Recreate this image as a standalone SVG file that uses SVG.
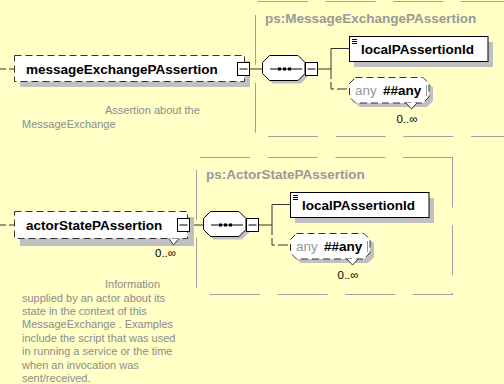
<svg xmlns="http://www.w3.org/2000/svg" width="504" height="384" viewBox="0 0 504 384">
<style>
.bg{fill:#FFFFC6}
.frame{fill:none;stroke:#a0a0a0;stroke-width:1;stroke-dasharray:50 17.7}
.ftitle{font-family:"Liberation Sans",Arial,sans-serif;font-size:13.5px;font-weight:bold;fill:#999}
.shadow{fill:#c0c0c0}
.box{fill:#fff;stroke:#000;stroke-width:1}
.obox{fill:#fff;stroke:#333;stroke-width:1;stroke-dasharray:7 4}
.name{font-family:"Liberation Sans",Arial,sans-serif;font-size:13.5px;font-weight:bold;fill:#000}
.desc{font-family:"Liberation Sans",Arial,sans-serif;font-size:11px;fill:#8c8c8c}
.occ{font-family:"Liberation Sans",Arial,sans-serif;font-size:11.5px;fill:#000}
.any{font-family:"Liberation Sans",Arial,sans-serif;font-size:13.5px;fill:#999}
.conn{fill:none;stroke:#333;stroke-width:1}
.dconn{fill:none;stroke:#333;stroke-width:1;stroke-dasharray:10 3}
.line{fill:none;stroke:#000;stroke-width:1}
.bar{fill:none;stroke:#999;stroke-width:1}
.notch{fill:#fff;stroke:#333;stroke-width:1}
</style>
<rect class="bg" x="0" y="0" width="504" height="384"/>

<g id="frame-MessageExchangePAssertion">
<path class="frame" d="M258,1.5 H504 M255.5,15 V137 M268,136.5 H504"/>
<text class="ftitle" x="265" y="22.7">ps:MessageExchangePAssertion</text>
</g>
<g id="frame-ActorStatePAssertion">
<path class="frame" d="M200,157.5 H453"/>
<path class="frame" d="M452.5,157.5 V294"/>
<path class="frame" d="M210,294.5 H453"/>
<path class="frame" d="M196.5,170 V294"/>
<text class="ftitle" x="206" y="178.7">ps:ActorStatePAssertion</text>
</g>

<g id="connectors">
<path class="dconn" style="stroke-dasharray:6 3" d="M0,69 H14.5"/>
<path class="conn" d="M249.5,69 H262.5"/>
<path class="conn" d="M317.5,69 H331 M331,69 V48.5 H349.5"/>
<path class="dconn" d="M331,69 V89 H349.5"/>
<path class="dconn" style="stroke-dasharray:6 3" d="M0,225 H14.5"/>
<path class="conn" d="M189.5,225 H203.5"/>
<path class="conn" d="M258.5,225 H272 M272,225 V204.5 H290.5"/>
<path class="dconn" d="M272,225 V245 H290.5"/>
</g>

<g id="messageExchangePAssertion">
<rect class="shadow" x="20" y="61" width="230" height="26"/>
<rect class="obox" x="14.5" y="55.5" width="230" height="26"/>
<text class="name" x="26" y="73.5">messageExchangePAssertion</text>
<rect class="box" x="237.5" y="62.5" width="12" height="13"/>
<path class="line" d="M239.5,69 H247.5"/>
<text class="desc" x="105" y="114">Assertion about the</text>
<text class="desc" x="22" y="127.5">MessageExchange</text>
</g>

<g id="sequence1">
<path class="shadow" d="M272.5,58.5 H301 L308,65.5 V76.5 L301,83.5 H272.5 L265.5,76.5 V65.5 Z"/>
<path class="box" d="M269.5,55.5 H298 L305,62.5 V73.5 L298,80.5 H269.5 L262.5,73.5 V62.5 Z"/>
<path class="line" d="M270,69 H302"/>
<rect x="278" y="67.5" width="3" height="3" fill="#000"/>
<rect x="283" y="67.5" width="3" height="3" fill="#000"/>
<rect x="288" y="67.5" width="3" height="3" fill="#000"/>
<rect class="box" x="305.5" y="62.5" width="12" height="13"/>
<path class="line" d="M307.5,69 H315.5"/>
</g>

<g id="localPAssertionId1">
<rect class="shadow" x="354" y="42" width="139" height="25"/>
<rect class="box" x="349.5" y="36.5" width="138.5" height="25"/>
<path class="line" d="M352,39.5 H357 M352,41.5 H357 M352,43.5 H357"/>
<text class="name" x="361" y="54">localPAssertionId</text>
</g>

<g id="any1">
<path class="shadow" d="M359.5,81.5 H427 L433,87.5 V101 L427,107 H359.5 L353.5,101 V87.5 Z"/>
<path class="obox" d="M355.5,77.5 H423 L429,83.5 V97 L423,103 H355.5 L349.5,97 V83.5 Z"/>
<path class="notch" d="M406,103 L411.5,109 L417,103"/>
<path class="bar" d="M426.5,85 V96"/>
<text x="355" y="95"><tspan class="any">any</tspan><tspan class="name" x="383">##any</tspan></text>
<text class="occ" x="396.5" y="123">0..∞</text>
</g>

<g id="actorStatePAssertion">
<rect class="shadow" x="20" y="217" width="174" height="29"/>
<rect class="obox" x="14.5" y="211.5" width="173" height="27"/>
<path class="notch" d="M169,238.5 L173.5,245 L179,238.5"/>
<text class="name" x="26" y="229.5">actorStatePAssertion</text>
<rect class="box" x="177.5" y="218.5" width="12" height="13"/>
<path class="line" d="M179.5,225 H187.5"/>
<text class="occ" x="155" y="257.3">0..∞</text>
<text class="desc" x="105" y="288">Information</text>
<text class="desc" x="22" y="301.5">supplied by an actor about its</text>
<text class="desc" x="22" y="315">state in the context of this</text>
<text class="desc" x="22" y="328.4">MessageExchange . Examples</text>
<text class="desc" x="22" y="341.9">include the script that was used</text>
<text class="desc" x="22" y="355.3">in running a service or the time</text>
<text class="desc" x="22" y="368.8">when an invocation was</text>
<text class="desc" x="22" y="382.2">sent/received.</text>
</g>

<g id="sequence2">
<path class="shadow" d="M213.5,214.5 H242 L249,221.5 V232.5 L242,239.5 H213.5 L206.5,232.5 V221.5 Z"/>
<path class="box" d="M210.5,211.5 H239 L246,218.5 V229.5 L239,236.5 H210.5 L203.5,229.5 V218.5 Z"/>
<path class="line" d="M211,225 H243"/>
<rect x="219" y="223.5" width="3" height="3" fill="#000"/>
<rect x="224" y="223.5" width="3" height="3" fill="#000"/>
<rect x="229" y="223.5" width="3" height="3" fill="#000"/>
<rect class="box" x="246.5" y="218.5" width="12" height="13"/>
<path class="line" d="M248.5,225 H256.5"/>
</g>

<g id="localPAssertionId2">
<rect class="shadow" x="295" y="198" width="139" height="25"/>
<rect class="box" x="290.5" y="192.5" width="138.5" height="25"/>
<path class="line" d="M293,195.5 H298 M293,197.5 H298 M293,199.5 H298"/>
<text class="name" x="302" y="210">localPAssertionId</text>
</g>

<g id="any2">
<path class="shadow" d="M300.5,237.5 H368 L374,243.5 V257 L368,263 H300.5 L294.5,257 V243.5 Z"/>
<path class="obox" d="M296.5,233.5 H364 L370,239.5 V253 L364,259 H296.5 L290.5,253 V239.5 Z"/>
<path class="notch" d="M347,259 L352.5,265 L358,259"/>
<path class="bar" d="M367.5,241 V252"/>
<text x="296" y="251"><tspan class="any">any</tspan><tspan class="name" x="324">##any</tspan></text>
<text class="occ" x="337.5" y="279">0..∞</text>
</g>
</svg>
